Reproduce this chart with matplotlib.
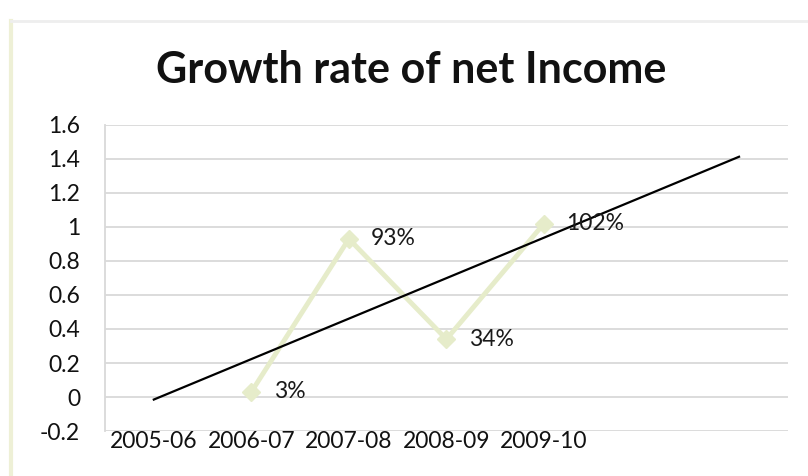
import matplotlib.pyplot as plt
import numpy as np
from matplotlib.lines import Line2D

plt.rcParams['font.family'] = ['Lato', 'DejaVu Sans']

years = ["2005-06", "2006-07", "2007-08", "2008-09", "2009-10"]
growth_x = [1, 2, 3, 4]
growth = [0.03, 0.93, 0.34, 1.02]
growth_labels = ["3%", "93%", "34%", "102%"]

fig = plt.figure(figsize=(8.08, 4.76), dpi=100)
ax = fig.add_axes([0.13, 0.0945, 0.845, 0.643])

# faint frame of the chart box
fig.add_artist(Line2D([0.013, 0.013], [0.0, 0.955], color="#eef0d6", lw=3))
fig.add_artist(Line2D([0.013, 1.0], [0.955, 0.955], color="#eeeeee", lw=2))

ax.plot(growth_x, growth, color="#e6ecca", lw=3.5, marker="D",
        markersize=9, markerfacecolor="#e6ecca", markeredgecolor="#e6ecca", zorder=3)

# linear trend, one period back and two forward
k, b = np.polyfit(growth_x, growth, 1)
tx = np.array([0, 6])
ax.plot(tx, k * tx + b, color="black", lw=1.6, zorder=4)

for x, y, s in zip(growth_x, growth, growth_labels):
    ax.annotate(s, (x, y), xytext=(16, 0), textcoords="offset points",
                va="center", ha="left", fontsize=16.5, color="#1a1a1a", zorder=5)

ax.set_xlim(-0.5, 6.5)
ax.set_ylim(-0.2, 1.6)
ax.set_yticks(np.arange(-0.2, 1.61, 0.2))
ax.set_yticklabels(["-0.2", "0", "0.2", "0.4", "0.6", "0.8", "1", "1.2", "1.4", "1.6"])
ax.set_xticks(range(len(years)))
ax.set_xticklabels(years)

ax.grid(axis="y", color="#d9d9d9", lw=1.3)
ax.set_axisbelow(True)
for side in ["top", "right", "bottom"]:
    ax.spines[side].set_visible(False)
ax.spines["left"].set_color("#d9d9d9")
ax.spines["left"].set_linewidth(1.3)

ax.tick_params(axis="y", length=0, pad=18, labelsize=16.5, labelcolor="#111111")
ax.tick_params(axis="x", length=0, pad=0, labelsize=16.5, labelcolor="#111111")
for lbl in ax.get_xticklabels():
    lbl.set_bbox(dict(facecolor="white", edgecolor="none", pad=3))

fig.text(0.509, 0.853, "Growth rate of net Income", ha="center", va="center",
         fontsize=31, fontweight="bold", color="#111111")

fig.savefig("out.png", dpi=100)
